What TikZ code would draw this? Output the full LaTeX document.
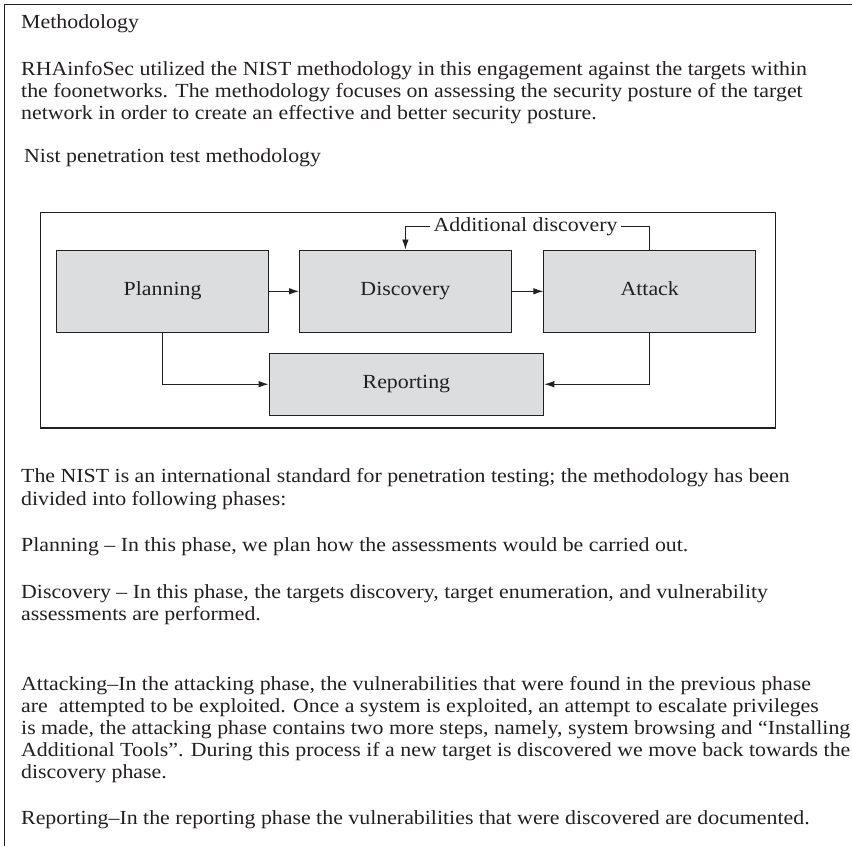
\documentclass[tikz,border=0pt]{standalone}
\usepackage{fontspec}
\setmainfont[FakeStretch=1.093]{Liberation Serif}
\usetikzlibrary{arrows.meta}
\definecolor{ink}{RGB}{35,31,32}
\definecolor{boxgray}{RGB}{220,221,223}
\begin{document}
\begin{tikzpicture}[x=1pt,y=-1pt,
  font=\fontsize{20}{23}\selectfont,
  txt/.style={anchor=base west, inner sep=0pt, text=ink},
  phase/.style={draw=ink, fill=boxgray, line width=0.9pt, text=ink, inner sep=0pt, text height=13pt, text depth=4pt},
  link/.style={draw=ink, line width=0.9pt},
  conn/.style={link, -{Latex[length=10pt,width=6.5pt]}}]
\useasboundingbox (0,0) rectangle (852,846);
% outer frame
\draw[ink, line width=1pt] (4,846) -- (4,4) -- (852,4);
% text above
\node[txt] (h) at (21,28) {Methodology};
\node[txt] (p1) at (21,75) {RHAinfoSec utilized the NIST methodology in this engagement against the targets within};
\node[txt] (p2) at (21,97) {the foonetworks. The methodology focuses on assessing the security posture of the target};
\node[txt] (p3) at (21,119) {network in order to create an effective and better security posture.};
\node[txt] (cap) at (24,162) {Nist penetration test methodology};
% diagram
\node[draw=ink, line width=1.3pt, minimum width=734.8pt, minimum height=215.3pt, inner sep=0pt] (frame) at (408.1,320.35) {};
\node[phase, minimum width=211.8pt, minimum height=82.7pt] (plan) at (162.6,291.3) {Planning};
\node[phase, minimum width=211.8pt, minimum height=82.7pt] (disc) at (405.4,291.3) {Discovery};
\node[phase, minimum width=211.8pt, minimum height=82.7pt] (att) at (649.7,291.3) {Attack};
\node[phase, minimum width=274.8pt, minimum height=61.7pt] (rep) at (406.4,384.2) {Reporting};
\node[text=ink, inner sep=3pt] (add) at (525.6,226.7) {Additional discovery};
\draw[conn] (plan) -- (disc);
\draw[conn] (disc) -- (att);
\draw[link] (att.north) |- (add.east);
\draw[conn] (add.west) -| (disc.north);
\draw[conn] (plan.south) |- (rep.west);
\draw[conn] (att.south) |- (rep.east);
% text below
\node[txt] (n1) at (21,482) {The NIST is an international standard for penetration testing; the methodology has been};
\node[txt] (n2) at (21,505) {divided into following phases:};
\node[txt] (pl) at (21,551) {Planning – In this phase, we plan how the assessments would be carried out.};
\node[txt] (d1) at (21,598) {Discovery – In this phase, the targets discovery, target enumeration, and vulnerability};
\node[txt] (d2) at (21,620) {assessments are performed.};
\node[txt] (a1) at (21,690) {Attacking–In the attacking phase, the vulnerabilities that were found in the previous phase};
\node[txt] (a2) at (21,712) {are~ attempted to be exploited. Once a system is exploited, an attempt to escalate privileges};
\node[txt] (a3) at (21,734) {is made, the attacking phase contains two more steps, namely, system browsing and “Installing};
\node[txt] (a4) at (21,756) {Additional Tools”. During this process if a new target is discovered we move back towards the};
\node[txt] (a5) at (21,778) {discovery phase.};
\node[txt] (r1) at (21,824) {Reporting–In the reporting phase the vulnerabilities that were discovered are documented.};
\end{tikzpicture}
\end{document}
